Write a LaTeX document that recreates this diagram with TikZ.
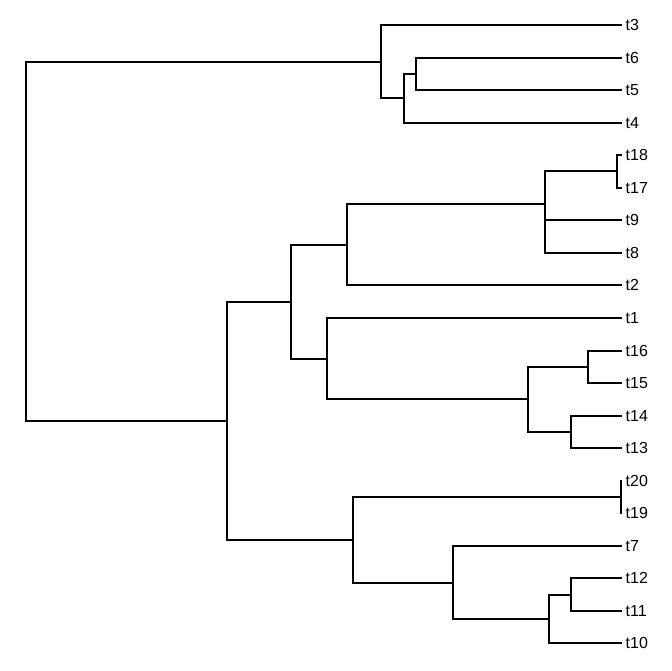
\documentclass[tikz,border=0pt]{standalone}
\usepackage{fontspec}
\setmainfont{Liberation Sans}
\begin{document}
\begin{tikzpicture}[x=1pt,y=-1pt,
  edge/.style={line width=2pt},
  tip/.style={anchor=west,inner sep=0pt,xshift=3.5pt,font=\fontsize{16}{19}\selectfont}]
\useasboundingbox (0,0) rectangle (672,671);

%% Tips
\foreach \lab [count=\i from 0] in {t3,t6,t5,t4,t18,t17,t9,t8,t2,t1,t16,t15,t14,t13,t20,t19,t7,t12,t11,t10}
  \node[tip] (\lab) at (622,{25+32.55*\i}) {\lab};

%% Internal nodes
\coordinate (root) at (25.7,241.3);
\coordinate (A) at (381,61.7);
\coordinate (B) at (404.3,98.3);
\coordinate (C) at (415.7,73.9);
\coordinate (D) at (226.7,420.8);
\coordinate (E) at (290.7,301.8);
\coordinate (F) at (346.7,244.8);
\coordinate (G) at (544.7,204.1);
\coordinate (G2) at (544.7,236.6);
\coordinate (J) at (616.7,171.5);
\coordinate (H) at (326.7,358.7);
\coordinate (I) at (528,399.4);
\coordinate (K) at (588,366.8);
\coordinate (L) at (571,431.9);
\coordinate (M) at (353.3,539.8);
\coordinate (Q) at (621,497);
\coordinate (N) at (453,582.5);
\coordinate (O) at (548.7,619.1);
\coordinate (P) at (570.7,594.7);

%% Edges
\foreach \p/\c in {root/A,root/D,A/B,B/C,D/E,D/M,E/F,E/H,F/G,G/J,G/G2,H/I,I/K,I/L,M/Q,M/N,N/O,O/P}
  \draw[edge] (\p) |- (\c);
\foreach \p/\c in {A/t3,B/t4,C/t6,C/t5,J/t18,J/t17,G2/t9,G2/t8,F/t2,H/t1,K/t16,K/t15,L/t14,L/t13,Q/t20,Q/t19,N/t7,P/t12,P/t11,O/t10}
  \draw[edge] (\p) |- ([xshift=-3.5pt]\c.west);

\end{tikzpicture}
\end{document}
